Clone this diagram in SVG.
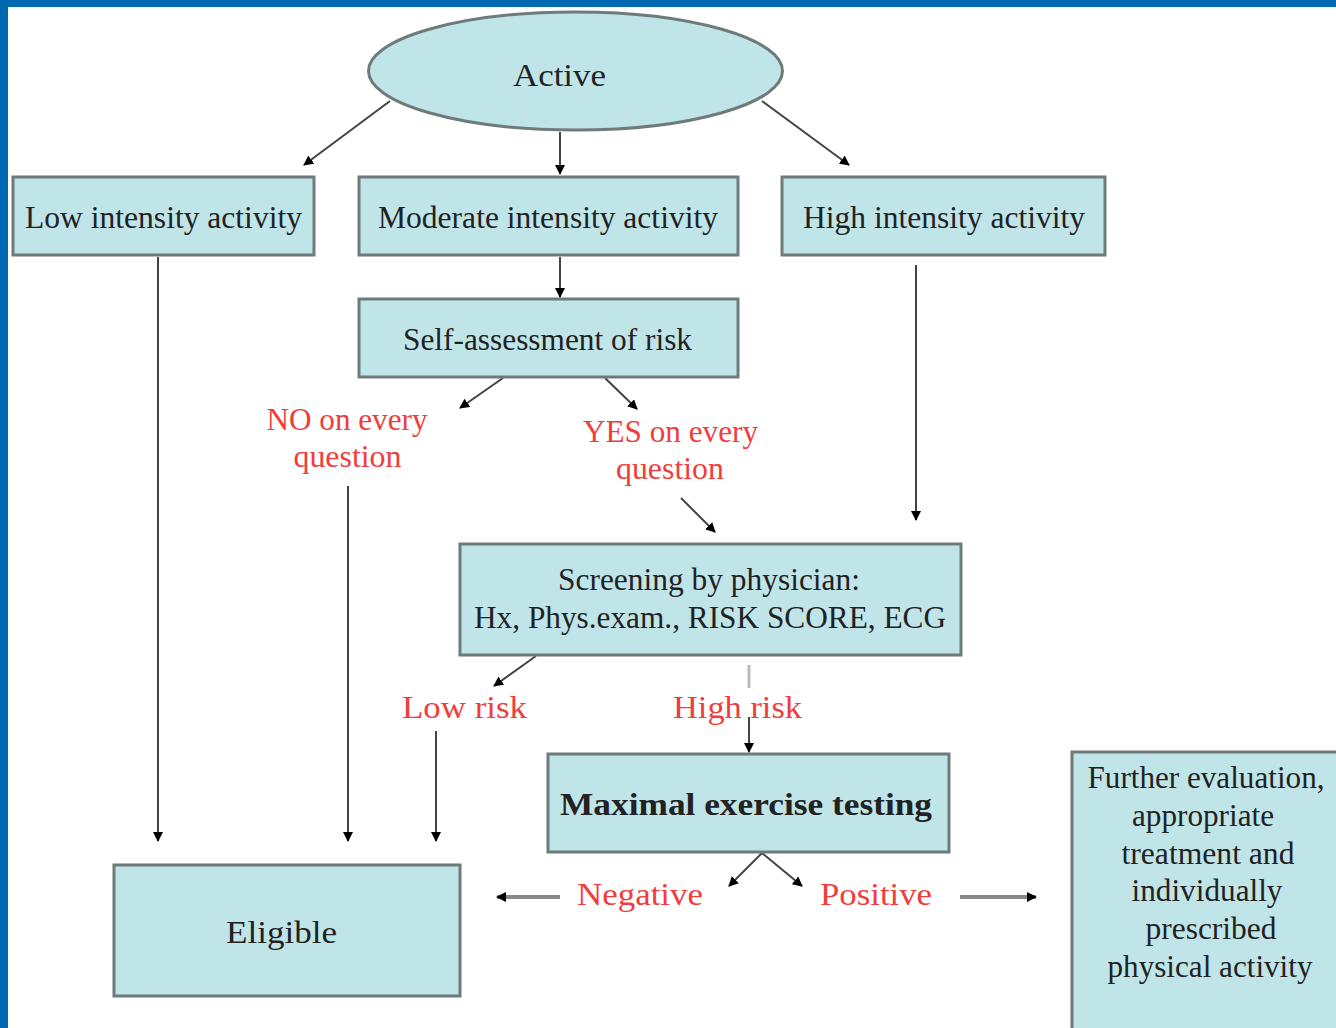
<svg xmlns="http://www.w3.org/2000/svg" width="1336" height="1028" viewBox="0 0 1336 1028">
<style>
.box{fill:#c0e5e9;stroke:#6f7a7b;stroke-width:3}
.t{font-family:"Liberation Serif","Times New Roman",serif;font-size:31px;fill:#222;text-anchor:middle}
.r{font-family:"Liberation Serif","Times New Roman",serif;font-size:31px;fill:#f23c3c;text-anchor:middle}
.c{stroke:#444;stroke-width:2;fill:none}
.g{stroke:#888;stroke-width:4;fill:none}
</style>
<defs>
<marker id="ah" viewBox="0 0 10 10" refX="9" refY="5" markerWidth="10" markerHeight="10" markerUnits="userSpaceOnUse" orient="auto">
<path d="M0,0 L10,5 L0,10 z" fill="#000"/>
</marker>
</defs>
<rect x="0" y="0" width="1336" height="1028" fill="#fff"/>
<rect x="0" y="0" width="1336" height="7" fill="#0068b0"/>
<rect x="0" y="0" width="8" height="1028" fill="#0068b0"/>

<g id="connectors">
<line class="c" x1="390" y1="101" x2="304" y2="165" marker-end="url(#ah)"/>
<line class="c" x1="560" y1="132" x2="560" y2="174" marker-end="url(#ah)"/>
<line class="c" x1="762" y1="101" x2="849" y2="165" marker-end="url(#ah)"/>
<line class="c" x1="158" y1="257" x2="158" y2="841" marker-end="url(#ah)"/>
<line class="c" x1="560" y1="257" x2="560" y2="297" marker-end="url(#ah)"/>
<line class="c" x1="503" y1="378" x2="460" y2="408" marker-end="url(#ah)"/>
<line class="c" x1="605" y1="378" x2="637" y2="409" marker-end="url(#ah)"/>
<line class="c" x1="348" y1="486" x2="348" y2="841" marker-end="url(#ah)"/>
<line class="c" x1="681" y1="498" x2="715" y2="532" marker-end="url(#ah)"/>
<line class="c" x1="916" y1="265" x2="916" y2="520" marker-end="url(#ah)"/>
<line class="c" x1="536" y1="656" x2="494" y2="686" marker-end="url(#ah)"/>
<line x1="749" y1="665" x2="749" y2="688" stroke="#bbb" stroke-width="3"/>
<line class="c" x1="749" y1="717" x2="749" y2="752" marker-end="url(#ah)"/>
<line class="c" x1="436" y1="731" x2="436" y2="841" marker-end="url(#ah)"/>
<line class="c" x1="762" y1="853" x2="729" y2="886" marker-end="url(#ah)"/>
<line class="c" x1="762" y1="853" x2="802" y2="886" marker-end="url(#ah)"/>
<line class="g" x1="560" y1="897" x2="497" y2="897" marker-end="url(#ah)"/>
<line class="g" x1="960" y1="897" x2="1036" y2="897" marker-end="url(#ah)"/>
</g>

<g id="active">
<ellipse class="box" cx="575.5" cy="71" rx="207" ry="59"/>
<text class="t" x="559.5" y="86" font-size="33" textLength="93" lengthAdjust="spacingAndGlyphs">Active</text>
</g>
<g id="low">
<rect class="box" x="13" y="177" width="301" height="78"/>
<text class="t" x="163.5" y="228" textLength="277" lengthAdjust="spacingAndGlyphs">Low intensity activity</text>
</g>
<g id="moderate">
<rect class="box" x="359" y="177" width="379" height="78"/>
<text class="t" x="548" y="228" textLength="340" lengthAdjust="spacingAndGlyphs">Moderate intensity activity</text>
</g>
<g id="high">
<rect class="box" x="782" y="177" width="323" height="78"/>
<text class="t" x="944" y="228" textLength="282" lengthAdjust="spacingAndGlyphs">High intensity activity</text>
</g>
<g id="self">
<rect class="box" x="359" y="299" width="379" height="78"/>
<text class="t" x="547.5" y="350" textLength="289" lengthAdjust="spacingAndGlyphs">Self-assessment of risk</text>
</g>
<g id="no">
<text class="r" x="347" y="430" textLength="161" lengthAdjust="spacingAndGlyphs">NO on every</text>
<text class="r" x="347.5" y="467" textLength="108" lengthAdjust="spacingAndGlyphs">question</text>
</g>
<g id="yes">
<text class="r" x="670.5" y="442" textLength="175" lengthAdjust="spacingAndGlyphs">YES on every</text>
<text class="r" x="670" y="479" textLength="108" lengthAdjust="spacingAndGlyphs">question</text>
</g>
<g id="screening">
<rect class="box" x="460" y="544" width="501" height="111"/>
<text class="t" x="709" y="590" textLength="302" lengthAdjust="spacingAndGlyphs">Screening by physician:</text>
<text class="t" x="710" y="628" textLength="472" lengthAdjust="spacingAndGlyphs">Hx, Phys.exam., RISK SCORE, ECG</text>
</g>
<g id="lowrisk">
<text class="r" x="464.5" y="718" textLength="125" lengthAdjust="spacingAndGlyphs">Low risk</text>
</g>
<g id="highrisk">
<text class="r" x="737.5" y="718" textLength="129" lengthAdjust="spacingAndGlyphs">High risk</text>
</g>
<g id="maximal">
<rect class="box" x="548" y="754" width="401" height="98"/>
<text class="t" x="746" y="815" font-weight="bold" textLength="372" lengthAdjust="spacingAndGlyphs">Maximal exercise testing</text>
</g>
<g id="negative">
<text class="r" x="640" y="905" textLength="126" lengthAdjust="spacingAndGlyphs">Negative</text>
</g>
<g id="positive">
<text class="r" x="876" y="905" textLength="112" lengthAdjust="spacingAndGlyphs">Positive</text>
</g>
<g id="eligible">
<rect class="box" x="114" y="865" width="346" height="131"/>
<text class="t" x="281.5" y="943" font-size="32" textLength="111" lengthAdjust="spacingAndGlyphs">Eligible</text>
</g>
<g id="further">
<rect class="box" x="1072" y="752" width="270" height="285"/>
<text class="t" x="1206" y="788" font-size="29" textLength="237" lengthAdjust="spacingAndGlyphs">Further evaluation,</text>
<text class="t" x="1203" y="826" font-size="29" textLength="142" lengthAdjust="spacingAndGlyphs">appropriate</text>
<text class="t" x="1208" y="864" font-size="29" textLength="173" lengthAdjust="spacingAndGlyphs">treatment and</text>
<text class="t" x="1207" y="901" font-size="29" textLength="151" lengthAdjust="spacingAndGlyphs">individually</text>
<text class="t" x="1211" y="939" font-size="29" textLength="131" lengthAdjust="spacingAndGlyphs">prescribed</text>
<text class="t" x="1210" y="977" font-size="29" textLength="205" lengthAdjust="spacingAndGlyphs">physical activity</text>
</g>
</svg>
